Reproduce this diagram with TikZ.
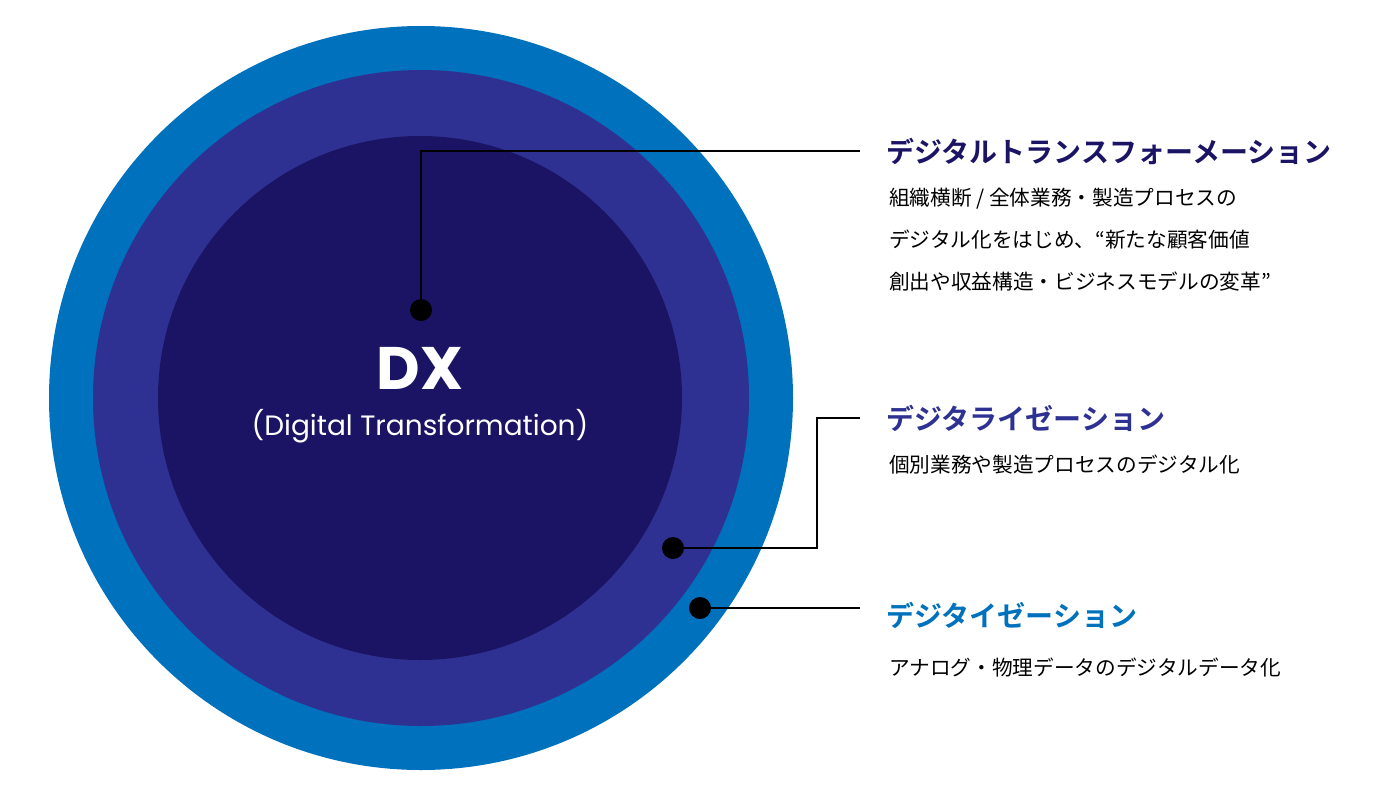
\documentclass[tikz,border=0pt]{standalone}
\usepackage{fontspec}
\newfontfamily\jp{Noto Sans CJK JP}
\newfontfamily\jpb{Noto Sans CJK JP Bold}
\newfontfamily\lat{Poppins}
\definecolor{cout}{HTML}{0071BC}
\definecolor{cmid}{HTML}{2E3192}
\definecolor{cin}{HTML}{1B1464}
\begin{document}
\begin{tikzpicture}[x=0.75pt,y=-0.75pt,
  dotn/.style={circle,fill=black,inner sep=0pt,minimum size=16.5pt},
  ttl/.style={anchor=west,inner sep=0pt,font=\jpb\fontsize{21}{24}\selectfont},
  body/.style={anchor=north west,inner sep=0pt,align=left,font=\jp\fontsize{15.5}{31.5}\selectfont},
  ln/.style={line width=2.2pt}]
\useasboundingbox (0,0) rectangle (1400,797);
\fill[cout] (421,398) circle[radius=372];
\fill[cmid] (421,398) circle[radius=328];
\fill[cin] (420,398) circle[radius=262];
\node[text=white,font=\lat\bfseries\fontsize{45}{50}\selectfont] (dx) at (420,368) {DX};
\node[text=white,font=\lat\fontsize{21}{24}\selectfont] (dxs) at (420,426) {(Digital Transformation)};
\node[dotn] (d1) at (421,310) {};
\node[dotn] (d2) at (673,548) {};
\node[dotn] (d3) at (700,608) {};
\coordinate (e1) at (860,151);
\coordinate (e2) at (860,418);
\coordinate (e3) at (860,608);
\draw[ln] (d1.center) |- (e1);
\draw[ln] (d2.center) -- (817,548) |- (e2);
\draw[ln] (d3.center) -- (e3);
\node[ttl,text=cin] (t1) at (886,151) {デジタルトランスフォーメーション};
\node[body] (b1) at (889,188) {組織横断 / 全体業務・製造プロセスの\\デジタル化をはじめ、“新たな顧客価値\\創出や収益構造・ビジネスモデルの変革”};
\node[ttl,text=cmid] (t2) at (886,418) {デジタライゼーション};
\node[body] (b2) at (889,455) {個別業務や製造プロセスのデジタル化};
\node[ttl,text=cout] (t3) at (886,615) {デジタイゼーション};
\node[body] (b3) at (889,658) {アナログ・物理データのデジタルデータ化};
\end{tikzpicture}
\end{document}
